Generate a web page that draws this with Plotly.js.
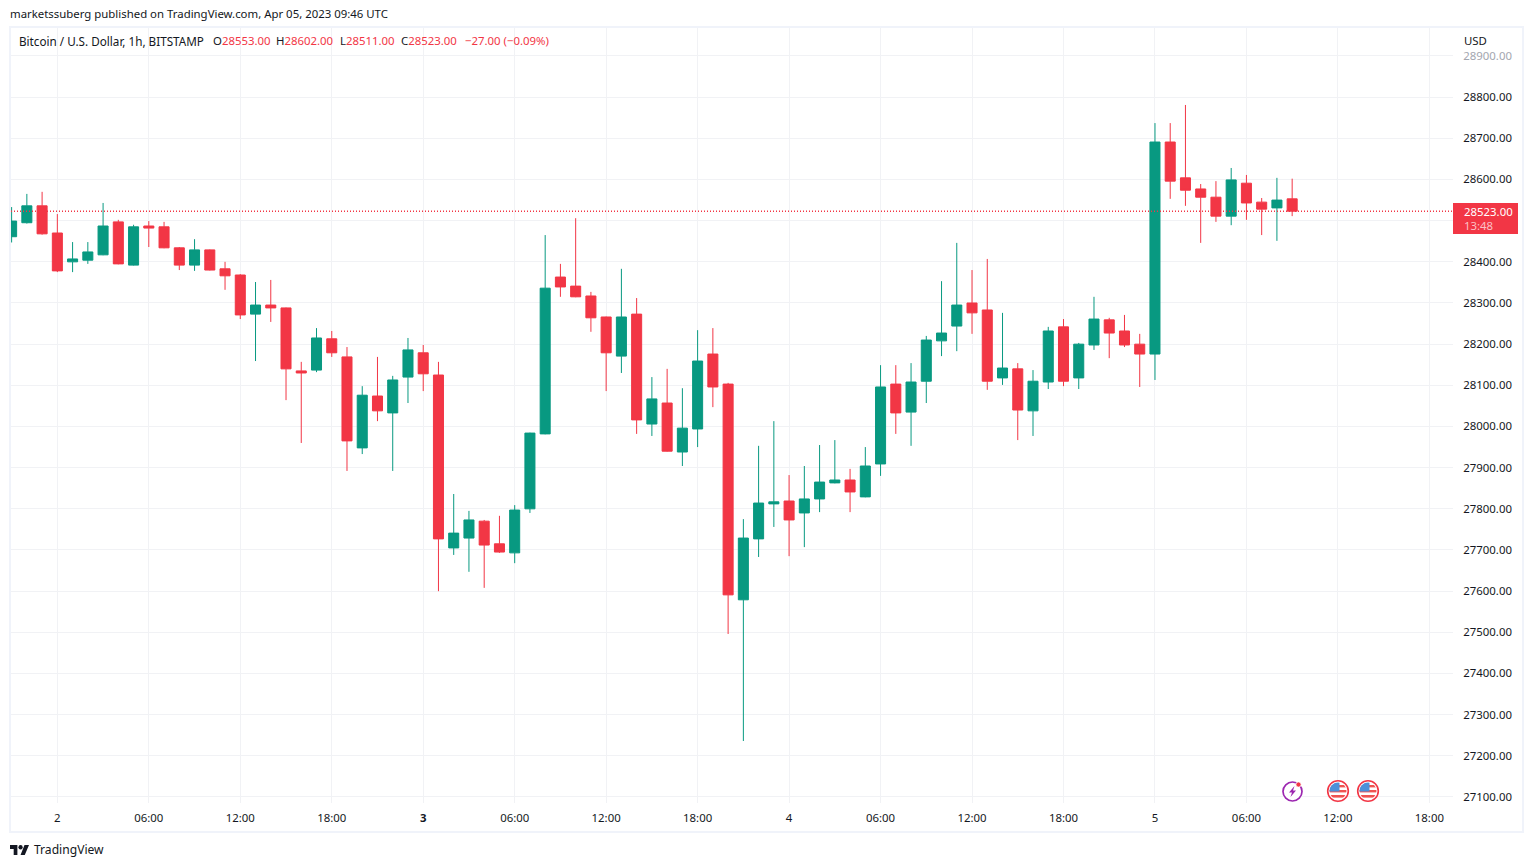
<!DOCTYPE html>
<html><head><meta charset="utf-8">
<script src="https://cdn.plot.ly/plotly-3.0.1.min.js"></script>
<style>html,body{margin:0;padding:0;background:#fff;overflow:hidden}#c{width:1533px;height:867px}</style>
</head><body><div id="c"></div>
<script>
const times=["2023-04-01 21:00","2023-04-01 22:00","2023-04-01 23:00",
"2023-04-02 00:00","2023-04-02 01:00","2023-04-02 02:00","2023-04-02 03:00","2023-04-02 04:00","2023-04-02 05:00","2023-04-02 06:00","2023-04-02 07:00","2023-04-02 08:00","2023-04-02 09:00","2023-04-02 10:00","2023-04-02 11:00","2023-04-02 12:00","2023-04-02 13:00","2023-04-02 14:00","2023-04-02 15:00","2023-04-02 16:00","2023-04-02 17:00","2023-04-02 18:00","2023-04-02 19:00","2023-04-02 20:00","2023-04-02 21:00","2023-04-02 22:00","2023-04-02 23:00",
"2023-04-03 00:00","2023-04-03 01:00","2023-04-03 02:00","2023-04-03 03:00","2023-04-03 04:00","2023-04-03 05:00","2023-04-03 06:00","2023-04-03 07:00","2023-04-03 08:00","2023-04-03 09:00","2023-04-03 10:00","2023-04-03 11:00","2023-04-03 12:00","2023-04-03 13:00","2023-04-03 14:00","2023-04-03 15:00","2023-04-03 16:00","2023-04-03 17:00","2023-04-03 18:00","2023-04-03 19:00","2023-04-03 20:00","2023-04-03 21:00","2023-04-03 22:00","2023-04-03 23:00",
"2023-04-04 00:00","2023-04-04 01:00","2023-04-04 02:00","2023-04-04 03:00","2023-04-04 04:00","2023-04-04 05:00","2023-04-04 06:00","2023-04-04 07:00","2023-04-04 08:00","2023-04-04 09:00","2023-04-04 10:00","2023-04-04 11:00","2023-04-04 12:00","2023-04-04 13:00","2023-04-04 14:00","2023-04-04 15:00","2023-04-04 16:00","2023-04-04 17:00","2023-04-04 18:00","2023-04-04 19:00","2023-04-04 20:00","2023-04-04 21:00","2023-04-04 22:00","2023-04-04 23:00",
"2023-04-05 00:00","2023-04-05 01:00","2023-04-05 02:00","2023-04-05 03:00","2023-04-05 04:00","2023-04-05 05:00","2023-04-05 06:00","2023-04-05 07:00","2023-04-05 08:00","2023-04-05 09:00"];
const open=[28461,28495,28536,28470,28400,28404,28417,28497,28392,28487,28485,28434,28392,28429,28383,28368,28273,28295,28288,28135,28137,28213,28169,27948,28074,28033,28120,28179,28125,27705,27729,27770,27715,27693,27800,27982,28363,28341,28317,28266,28171,28273,28006,28057,27938,27994,28176,28103,27579,27727,27812,27819,27790,27824,27863,27870,27829,27909,28103,28035,28110,28208,28244,28300,28283,28118,28140,28038,28108,28242,28118,28198,28259,28232,28200,28176,28691,28604,28577,28557,28511,28591,28545,28531,28553];
const high=[28533,28565,28570,28516,28448,28448,28543,28502,28490,28499,28497,28436,28455,28430,28400,28370,28351,28356,28289,28157,28239,28232,28193,28098,28169,28123,28215,28198,28157,27836,27795,27773,27783,27809,27985,28465,28395,28506,28327,28267,28383,28312,28120,28140,28093,28234,28239,28106,27775,27953,28013,27882,27904,27955,27967,27897,27950,28149,28149,28154,28220,28353,28446,28380,28407,28276,28154,28137,28242,28261,28203,28315,28264,28271,28225,28737,28737,28781,28589,28596,28628,28611,28555,28604,28602];
const low=[28447,28493,28466,28375,28375,28395,28416,28394,28391,28436,28433,28380,28378,28379,28332,28261,28159,28254,28064,27960,28132,28169,27892,27933,28013,27892,28057,28086,27600,27688,27647,27608,27693,27668,27790,27981,28315,28314,28230,28086,28130,27982,27977,27939,27904,27950,28047,27496,27236,27683,27756,27685,27707,27792,27862,27792,27828,27880,27982,27953,28057,28171,28183,28225,28089,28101,27967,27977,28091,28098,28091,28186,28166,28193,28096,28113,28553,28536,28446,28497,28489,28502,28465,28451,28511];
const close=[28499,28536,28468,28378,28407,28424,28487,28395,28485,28482,28434,28392,28429,28380,28366,28271,28295,28288,28140,28130,28215,28179,27965,28076,28038,28113,28186,28128,27727,27741,27773,27712,27695,27797,27984,28336,28339,28315,28264,28179,28266,28016,28067,27940,27996,28159,28096,27591,27729,27814,27817,27773,27824,27865,27870,27841,27904,28096,28033,28108,28210,28227,28295,28276,28110,28142,28040,28110,28232,28110,28200,28261,28227,28198,28176,28691,28596,28574,28557,28511,28599,28543,28528,28550,28523];
const tickDates=["2023-04-02 00:00","2023-04-02 06:00","2023-04-02 12:00","2023-04-02 18:00","2023-04-03 00:00","2023-04-03 06:00","2023-04-03 12:00","2023-04-03 18:00","2023-04-04 00:00","2023-04-04 06:00","2023-04-04 12:00","2023-04-04 18:00","2023-04-05 00:00","2023-04-05 06:00","2023-04-05 12:00","2023-04-05 18:00"];
const tickLabels=["2","06:00","12:00","18:00","<b>3</b>","06:00","12:00","18:00","4","06:00","12:00","18:00","5","06:00","12:00","18:00"];
const priceTicks=[27100,27200,27300,27400,27500,27600,27700,27800,27900,28000,28100,28200,28300,28400,28500,28600,28700,28800,28900];
const priceLabels=["27100.00","27200.00","27300.00","27400.00","27500.00","27600.00","27700.00","27800.00","27900.00","28000.00","28100.00","28200.00","28300.00","28400.00","","28600.00","28700.00","28800.00","<span style='color:#a3a6af'>28900.00</span>"];
const lastPrice=28523;
const UP="#089981",DOWN="#F23645",INK="#131722",GRID="#F1F2F5",FRAME="#F0F3FA",FONT="'Noto Sans',sans-serif",FS=11.4;
const W=1533,H=867,L=11,R=1453,T=28,B=803;
const px=X=>(X-L)/(R-L), py=Y=>(B-Y)/(B-T);
const svg=s=>"data:image/svg+xml;base64,"+btoa(s);
function icon(src,x0,y0,w,h){return {source:svg(src),xref:"paper",yref:"paper",x:px(x0),y:py(y0),sizex:w/(R-L),sizey:h/(B-T),xanchor:"left",yanchor:"top",sizing:"stretch",layer:"above"};}
const bolt=`<svg xmlns='http://www.w3.org/2000/svg' width='24' height='24' viewBox='0 0 24 24'><circle cx='11.5' cy='12.5' r='9.5' fill='#fff' stroke='#9c27b0' stroke-width='1.7'/><path d='M13.5 7 L8 13.5 H11 L9.5 18 L15 11.5 H12 Z' fill='#9c27b0'/><circle cx='17.5' cy='5.5' r='2.6' fill='#f23645' stroke='#fff' stroke-width='.8'/></svg>`;
const flag=`<svg xmlns='http://www.w3.org/2000/svg' width='24' height='24' viewBox='0 0 24 24'><defs><clipPath id='k'><circle cx='12' cy='12' r='8.5'/></clipPath></defs><circle cx='12' cy='12' r='10.3' fill='#fff' stroke='#f23645' stroke-width='1.6'/><g clip-path='url(#k)'><rect x='3' y='3' width='18' height='18' fill='#fff'/><rect x='3' y='6' width='18' height='2.4' fill='#ef5350'/><rect x='3' y='11' width='18' height='2.4' fill='#ef5350'/><rect x='3' y='16' width='18' height='2.6' fill='#ef5350'/><rect x='3' y='3' width='10.5' height='9.5' fill='#4a90d9'/></g></svg>`;
const logo=`<svg xmlns='http://www.w3.org/2000/svg' width='20' height='10' viewBox='0 0 36 18'><path d='M14 18H7V7H0V0h14v18z M28 18H20L27.5 0H36z' fill='#131722'/><circle cx='20' cy='4' r='4' fill='#131722'/></svg>`;
const trace={type:"candlestick",x:times,open:open,high:high,low:low,close:close,whiskerwidth:0,
 increasing:{line:{color:UP,width:1},fillcolor:UP},decreasing:{line:{color:DOWN,width:1},fillcolor:DOWN},hoverinfo:"skip",showlegend:false};
const red=s=>`<span style="color:${DOWN}">${s}</span>`;
function txt(text,X,Y,o){return Object.assign({text:text,xref:"paper",yref:"paper",x:px(X),y:py(Y),xanchor:"left",yanchor:"middle",showarrow:false,borderpad:0,font:{family:FONT,size:FS,color:INK}},o||{});}
const layout={width:W,height:H,margin:{l:L,r:W-R,t:T,b:H-B,pad:0},paper_bgcolor:"#fff",plot_bgcolor:"#fff",showlegend:false,boxgap:0.06,
 font:{family:FONT,size:FS,color:INK},
 xaxis:{type:"date",range:["2023-04-01 20:57:36","2023-04-05 19:33:00"],rangeslider:{visible:false},tickmode:"array",tickvals:tickDates,ticktext:tickLabels,tickangle:0,showgrid:true,gridcolor:GRID,gridwidth:1,zeroline:false,showline:false,ticks:"outside",ticklen:4,tickcolor:"rgba(0,0,0,0)",tickfont:{family:FONT,size:FS,color:INK},fixedrange:true},
 yaxis:{side:"right",range:[27085.4,28968],tickmode:"array",tickvals:priceTicks,ticktext:priceLabels,showgrid:true,gridcolor:GRID,gridwidth:1,zeroline:false,showline:false,ticks:"outside",ticklen:7,tickcolor:"rgba(0,0,0,0)",tickfont:{family:FONT,size:FS,color:INK},fixedrange:true},
 shapes:[
  {type:"rect",xref:"paper",yref:"paper",x0:px(10),x1:px(1523),y0:py(832),y1:py(27),line:{color:FRAME,width:2},fillcolor:"rgba(0,0,0,0)",layer:"above"},
  {type:"line",xref:"paper",yref:"y",x0:0,x1:1,y0:lastPrice,y1:lastPrice,line:{color:DOWN,width:1.4,dash:"1px,2px"},layer:"above"},
  {type:"rect",xref:"paper",yref:"paper",x0:px(1453),x1:px(1518),y0:py(234),y1:py(203),fillcolor:DOWN,line:{width:0},layer:"above"}
 ],
 annotations:[
  txt("marketssuberg published on TradingView.com, Apr 05, 2023 09:46 UTC",9.2,14),
  txt("Bitcoin / U.S. Dollar, 1h, BITSTAMP",17.6,41,{font:{family:FONT,size:11.7,color:INK}}),
  txt("O"+red("28553.00"),211.6,41),
  txt("H"+red("28602.00"),275,41),
  txt("L"+red("28511.00"),339,41),
  txt("C"+red("28523.00"),400,41),
  txt(red("−27.00 (−0.09%)"),463.8,41),
  txt("USD",1462.5,40),
  txt("28523.00",1462.5,211.5,{font:{family:FONT,size:FS,color:"#fff"}}),
  txt("13:48",1462.5,225.5,{font:{family:FONT,size:FS,color:"rgba(255,255,255,.7)"}}),
  txt("TradingView",32.5,849,{font:{family:FONT,size:12.1,color:INK}})
 ],
 images:[icon(bolt,1281,779,24,24),icon(flag,1326,779,24,24),icon(flag,1356,779,24,24),icon(logo,10,845,19,10)]
};
Plotly.newPlot("c",[trace],layout,{displayModeBar:false,staticPlot:true});
</script></body></html>
